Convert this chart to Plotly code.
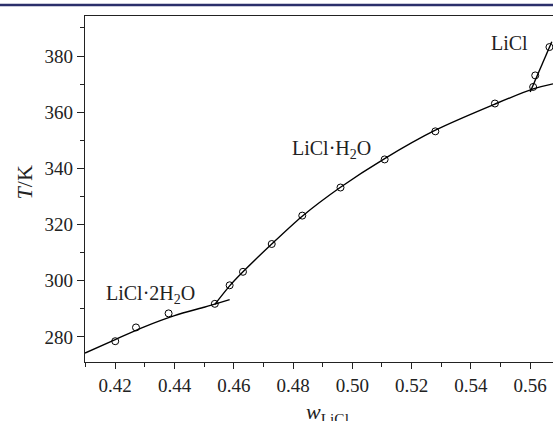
import plotly.graph_objects as go

# Experimental points (w_LiCl, T/K)
w_2h2o = [0.4200, 0.4270, 0.4380, 0.4536]
t_2h2o = [278.5, 283.4, 288.4, 291.8]

w_h2o = [0.4586, 0.4631, 0.4728, 0.4831, 0.4960, 0.5109, 0.5280, 0.5481, 0.5610]
t_h2o = [298.4, 303.2, 313.1, 323.2, 333.2, 343.2, 353.2, 363.1, 369.0]

w_licl = [0.5617, 0.5665]
t_licl = [373.1, 383.2]

# Fitted curves
cw_2h2o = [0.4098, 0.4200, 0.4300, 0.4400, 0.4500, 0.4536, 0.4586]
ct_2h2o = [274.3, 279.1, 283.7, 287.6, 290.6, 291.7, 293.3]

cw_h2o = [0.4536, 0.4586, 0.4631, 0.4728, 0.4831, 0.4960, 0.5109, 0.5280, 0.5481, 0.5610, 0.5677]
ct_h2o = [291.6, 298.2, 303.2, 313.1, 323.0, 333.3, 343.5, 353.6, 362.9, 368.3, 370.1]

cw_licl = [0.5600, 0.5673]
ct_licl = [367.2, 385.1]

# Phase labels
lab_w = [0.4320, 0.4930, 0.5530]
lab_t = [295.0, 346.6, 384.6]
lab_txt = ["LiCl·2H<sub>2</sub>O", "LiCl·H<sub>2</sub>O", "LiCl"]

x_range = [0.4098, 0.5677]
y_range = [271.1, 394.25]

FONT = "Liberation Serif, Times New Roman, serif"

fig = go.Figure()
for cw, ct in [(cw_2h2o, ct_2h2o), (cw_h2o, ct_h2o), (cw_licl, ct_licl)]:
    fig.add_trace(go.Scatter(x=cw, y=ct, mode="lines",
                             line=dict(color="black", width=1.4, shape="spline", smoothing=0.8),
                             showlegend=False, hoverinfo="skip"))
for pw, pt in [(w_2h2o, t_2h2o), (w_h2o, t_h2o), (w_licl, t_licl)]:
    fig.add_trace(go.Scatter(x=pw, y=pt, mode="markers",
                             marker=dict(symbol="circle-open", size=7, color="black",
                                         line=dict(width=1, color="black")),
                             showlegend=False))

for xw, yt, tx in zip(lab_w, lab_t, lab_txt):
    fig.add_annotation(x=xw, y=yt, text=tx, showarrow=False,
                       font=dict(family=FONT, size=20, color="#222"),
                       xanchor="center", yanchor="middle")

# axis titles
fig.add_annotation(xref="paper", yref="paper", x=-0.1296, y=0.52,
                   text="<i>T</i>/K", textangle=-90, showarrow=False,
                   font=dict(family=FONT, size=22, color="#222"),
                   xanchor="center", yanchor="middle")
fig.add_annotation(xref="paper", yref="paper", x=0.5174, y=-0.1,
                   text="<i>w</i><sub>LiCl</sub>", showarrow=False,
                   font=dict(family=FONT, size=22, color="#222"),
                   xanchor="center", yanchor="top")

# top navy rule
fig.add_shape(type="line", xref="paper", yref="paper", x0=-0.3, x1=1.2,
              y0=1.0318, y1=1.0318, line=dict(color="#2b2f6b", width=2.5))

fig.update_xaxes(range=x_range, tick0=0.42, dtick=0.02, tickformat=".2f",
                 ticks="outside", ticklen=6, tickwidth=1, tickcolor="#222",
                 showline=True, linecolor="#222", linewidth=1.2, mirror=True,
                 showgrid=False, zeroline=False,
                 tickfont=dict(family=FONT, size=19, color="#222"),
                 minor=dict(dtick=0.01, tick0=0.41, ticks="outside", ticklen=3.5,
                            tickcolor="#222", showgrid=False))
fig.update_yaxes(range=y_range, tick0=280, dtick=20,
                 ticks="outside", ticklen=7, tickwidth=1, tickcolor="#222",
                 showline=True, linecolor="#222", linewidth=1.2, mirror=False,
                 showgrid=False, zeroline=False,
                 tickfont=dict(family=FONT, size=19, color="#222"),
                 minor=dict(dtick=10, tick0=270, ticks="outside", ticklen=3.5,
                            tickcolor="#222", showgrid=False))

fig.update_layout(width=553, height=421,
                  margin=dict(l=84.7, r=0, t=16, b=59.3, autoexpand=False),
                  paper_bgcolor="white", plot_bgcolor="white",
                  showlegend=False)

fig.write_html("out.html", config={"displayModeBar": False},
               post_script="document.body.style.margin='0';document.body.style.overflow='hidden';")
